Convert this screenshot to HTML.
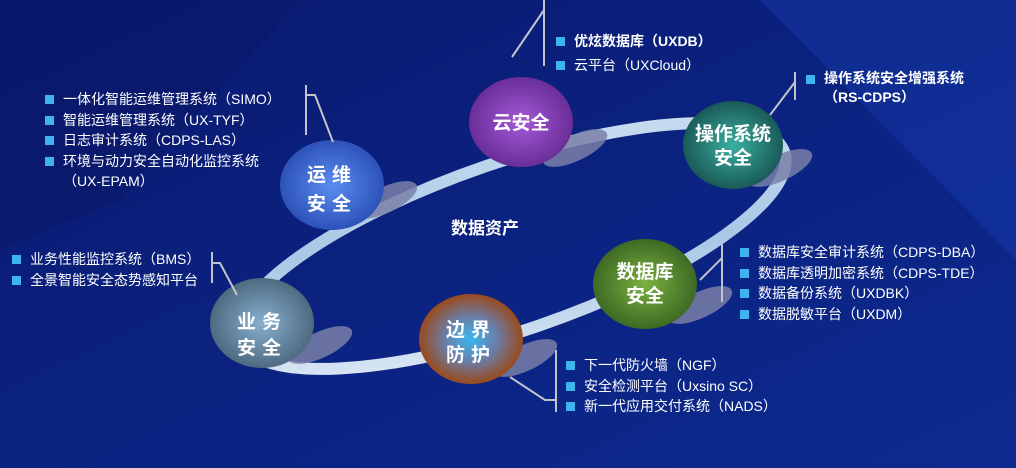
<!DOCTYPE html>
<html><head><meta charset="utf-8"><style>
body{margin:0;width:1016px;height:468px;overflow:hidden;background:#0b2180;font-family:"Liberation Sans","Noto Sans CJK SC",sans-serif;}
svg{position:absolute;left:0;top:0}
.t{position:absolute;color:#fff;font-size:14px;line-height:20.5px;white-space:nowrap}
.t div{position:relative;padding-left:18px}
.t div.b:before{content:"";position:absolute;left:0;top:6px;width:9px;height:9px;background:#3db4ee}
</style></head><body>
<svg width="1016" height="468">
<defs>
<linearGradient id="bg" x1="0" y1="0" x2="1" y2="1"><stop offset="0" stop-color="#0a1a70"/><stop offset="1" stop-color="#0c2a90"/></linearGradient>
<linearGradient id="ring" x1="0" y1="1" x2="1" y2="0"><stop offset="0" stop-color="#e6eef8"/><stop offset="0.5" stop-color="#a9c8e6"/><stop offset="1" stop-color="#d0e2f2"/></linearGradient>
<radialGradient id="g1"><stop offset="0" stop-color="#5a8ef0"/><stop offset="1" stop-color="#2d52b8"/></radialGradient>
<radialGradient id="g2"><stop offset="0" stop-color="#a45ad8"/><stop offset="1" stop-color="#6a2e98"/></radialGradient>
<radialGradient id="g3"><stop offset="0" stop-color="#3ab0a0"/><stop offset="1" stop-color="#1a5a58"/></radialGradient>
<radialGradient id="g4"><stop offset="0" stop-color="#7ab040"/><stop offset="1" stop-color="#3e6a24"/></radialGradient>
<radialGradient id="g5"><stop offset="0" stop-color="#38b8f0"/><stop offset="0.5" stop-color="#6a7ea8"/><stop offset="1" stop-color="#9a4a1c"/></radialGradient>
<radialGradient id="g6"><stop offset="0" stop-color="#88b0d0"/><stop offset="1" stop-color="#4e6a80"/></radialGradient>
</defs>
<rect width="1016" height="468" fill="url(#bg)"/>
<polygon points="0,0 300,0 120,200 0,250" fill="#0a1868" opacity="0.6"/>
<polygon points="760,0 1016,0 1016,260" fill="#1638a8" opacity="0.5"/>
<ellipse cx="512" cy="246" rx="288" ry="84" transform="rotate(-19 512 246)" fill="none" stroke="url(#ring)" stroke-width="12"/>
<g fill="#7a80a8" opacity="0.85">
<ellipse cx="385" cy="200" rx="35" ry="13" transform="rotate(-25 385 200)"/>
<ellipse cx="575" cy="148" rx="35" ry="13" transform="rotate(-25 575 148)"/>
<ellipse cx="780" cy="168" rx="35" ry="13" transform="rotate(-25 780 168)"/>
<ellipse cx="700" cy="305" rx="35" ry="13" transform="rotate(-25 700 305)"/>
<ellipse cx="320" cy="345" rx="35" ry="13" transform="rotate(-25 320 345)"/>
<ellipse cx="525" cy="358" rx="35" ry="13" transform="rotate(-25 525 358)"/>
</g>
<ellipse cx="332" cy="185" rx="52" ry="45" fill="url(#g1)"/>
<ellipse cx="521" cy="122" rx="52" ry="45" fill="url(#g2)"/>
<ellipse cx="733" cy="145" rx="50" ry="44" fill="url(#g3)"/>
<ellipse cx="645" cy="284" rx="52" ry="45" fill="url(#g4)"/>
<ellipse cx="471" cy="339" rx="52" ry="45" fill="url(#g5)"/>
<ellipse cx="262" cy="323" rx="52" ry="45" fill="url(#g6)"/>
<g stroke="#c0c4cc" stroke-width="2" fill="none">
<polyline points="306,85 306,135"/><polyline points="306,95 315,95 333,142"/>
<polyline points="212,252 212,283"/><polyline points="212,263 220,263 237,295"/>
<polyline points="544,0 544,66"/><polyline points="544,10 512,57"/>
<polyline points="795,72 795,100"/><polyline points="795,82 770,115"/>
<polyline points="722,243 722,302"/><polyline points="722,258 700,280"/>
<polyline points="556,350 556,412"/><polyline points="556,400 545,400 510,377"/>
</g>
<g fill="#fff" font-weight="bold" font-size="19" text-anchor="middle" font-family="Liberation Sans,Noto Sans CJK SC,sans-serif">
<text x="332" y="181" letter-spacing="6">运维</text><text x="332" y="210" letter-spacing="6">安全</text>
<text x="521" y="129">云安全</text>
<text x="733" y="140">操作系统</text><text x="733" y="164">安全</text>
<text x="645" y="278">数据库</text><text x="645" y="302">安全</text>
<text x="471" y="336" letter-spacing="6">边界</text><text x="471" y="361" letter-spacing="6">防护</text>
<text x="262" y="328" letter-spacing="6">业务</text><text x="262" y="354" letter-spacing="6">安全</text>
<text x="485" y="234" font-size="17">数据资产</text>
</g>
</svg>
<div class="t" style="left:45px;top:89px"><div class="b">一体化智能运维管理系统（SIMO）</div><div class="b">智能运维管理系统（UX-TYF）</div><div class="b">日志审计系统（CDPS-LAS）</div><div class="b">环境与动力安全自动化监控系统</div><div>（UX-EPAM）</div></div>
<div class="t" style="left:12px;top:249px"><div class="b">业务性能监控系统（BMS）</div><div class="b">全景智能安全态势感知平台</div></div>
<div class="t" style="left:556px;top:31px"><div class="b" style="font-weight:bold">优炫数据库（UXDB）</div><div class="b" style="margin-top:3px">云平台（UXCloud）</div></div>
<div class="t" style="left:806px;top:69px;line-height:19px"><div class="b" style="font-weight:bold">操作系统安全增强系统</div><div style="font-weight:bold">（RS-CDPS）</div></div>
<div class="t" style="left:740px;top:242px"><div class="b">数据库安全审计系统（CDPS-DBA）</div><div class="b">数据库透明加密系统（CDPS-TDE）</div><div class="b">数据备份系统（UXDBK）</div><div class="b">数据脱敏平台（UXDM）</div></div>
<div class="t" style="left:566px;top:355px"><div class="b">下一代防火墙（NGF）</div><div class="b">安全检测平台（Uxsino SC）</div><div class="b">新一代应用交付系统（NADS）</div></div>
</body></html>
